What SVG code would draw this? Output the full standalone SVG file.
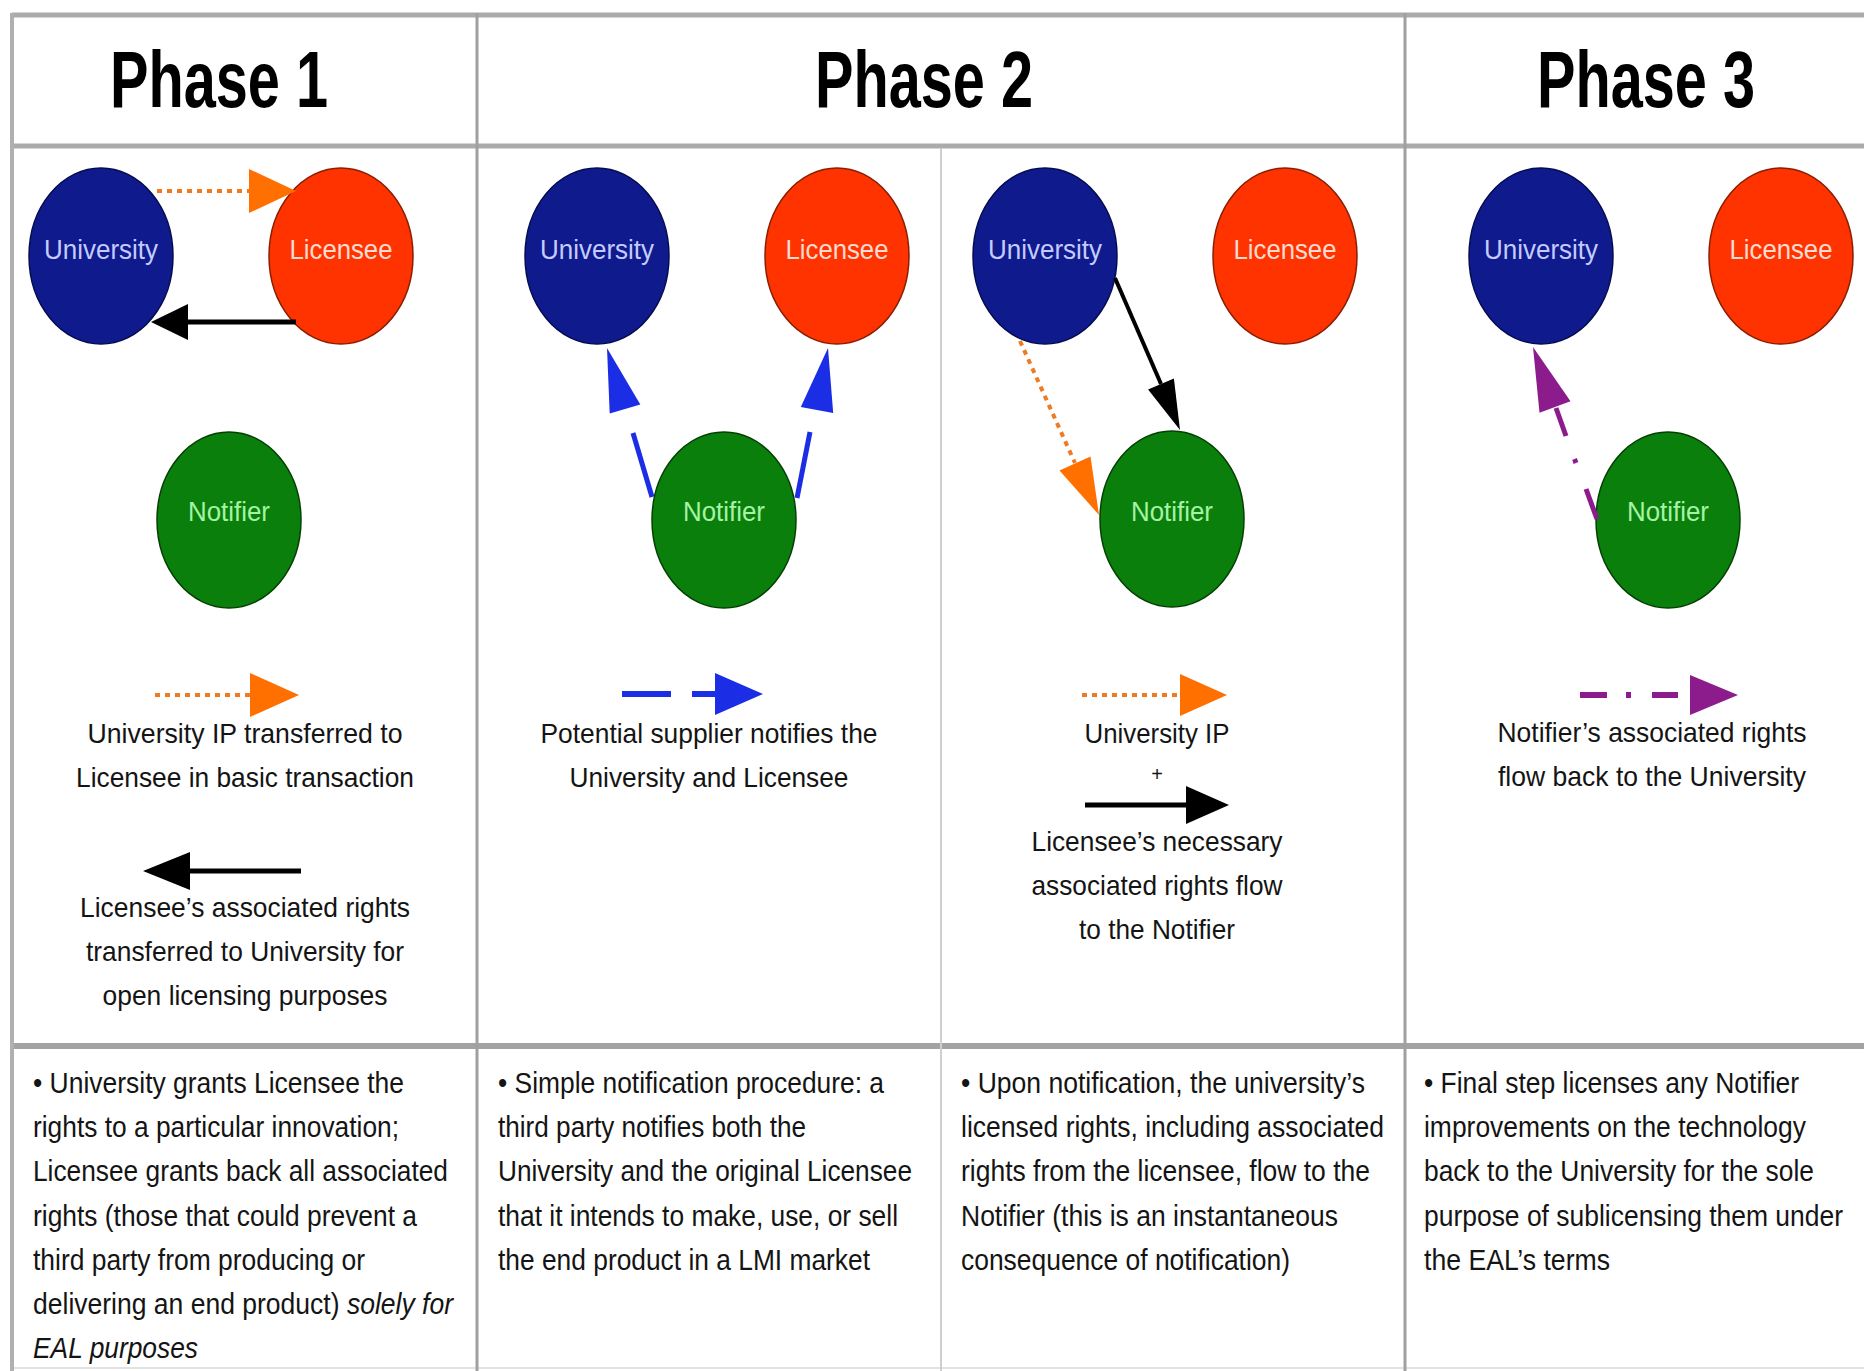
<svg xmlns="http://www.w3.org/2000/svg" width="1864" height="1371" viewBox="0 0 1864 1371">
<style>
.bg{fill:#ffffff}
.gh{stroke:#ababab;stroke-width:5;fill:none}
.gv{stroke:#a0a0a0;stroke-width:3;fill:none}
.gs{stroke:#cfcfcf;stroke-width:2;fill:none}
.title{font-family:"Liberation Sans",Arial,sans-serif;font-weight:bold;font-size:80px;fill:#000}
.nl{font-family:"Liberation Sans",Arial,sans-serif;font-size:27px;text-anchor:middle}
.uni ellipse{fill:#0f1a8c;stroke:#050c50;stroke-width:1.5}
.uni text{fill:#c4cbff}
.lic ellipse{fill:#ff3300;stroke:#8a1e00;stroke-width:1.5}
.lic text{fill:#ffdcd0}
.ntf ellipse{fill:#0b7f0b;stroke:#034003;stroke-width:1.5}
.ntf text{fill:#a4f4a4}
.lg{font-family:"Liberation Sans",Arial,sans-serif;font-size:28px;fill:#141414;text-anchor:middle}
.bt{font-family:"Liberation Sans",Arial,sans-serif;font-size:30px;fill:#141414}
.it{font-style:italic}
.dot{stroke:#ee7a22;stroke-width:4;stroke-dasharray:5 5;fill:none}
.oh{fill:#ff7000}
.blk{stroke:#000;stroke-width:5;fill:none}
.bh{fill:#000}
.blu{stroke:#1b2ee6;stroke-width:5;fill:none}
.buh{fill:#1b2ee6}
.pur{stroke:#8c1c8c;stroke-width:5;fill:none}
.puh{fill:#8c1c8c}
</style>
<rect class="bg" x="0" y="0" width="1864" height="1371"/>
<g id="grid">
<line class="gh" x1="12" y1="15" x2="1864" y2="15"/>
<line class="gh" x1="12" y1="146" x2="1864" y2="146"/>
<line class="gh" x1="12" y1="1046" x2="1864" y2="1046" style="stroke-width:6;stroke:#a3a3a3"/>
<line x1="12" y1="1368" x2="1864" y2="1368" style="stroke:#e2e2e2;stroke-width:2"/>
<line class="gv" x1="12" y1="13" x2="12" y2="1371" style="stroke-width:4;stroke:#b0b0b0"/>
<line class="gv" x1="477" y1="13" x2="477" y2="1371"/>
<line class="gv" x1="1405" y1="13" x2="1405" y2="1371"/>
<line class="gs" x1="941" y1="148" x2="941" y2="1371"/>
</g>
<g id="titles">
<text class="title" x="110" y="107" textLength="218" lengthAdjust="spacingAndGlyphs">Phase 1</text>
<text class="title" x="815" y="107" textLength="218" lengthAdjust="spacingAndGlyphs">Phase 2</text>
<text class="title" x="1537" y="107" textLength="218" lengthAdjust="spacingAndGlyphs">Phase 3</text>
</g>
<g id="p1-university" class="uni"><ellipse cx="101" cy="256" rx="72" ry="88"/><text class="nl" x="101" y="259" textLength="114" lengthAdjust="spacingAndGlyphs">University</text></g>
<g id="p1-licensee" class="lic"><ellipse cx="341" cy="256" rx="72" ry="88"/><text class="nl" x="341" y="259" textLength="103" lengthAdjust="spacingAndGlyphs">Licensee</text></g>
<g id="p1-notifier" class="ntf"><ellipse cx="229" cy="520" rx="72" ry="88"/><text class="nl" x="229" y="521" textLength="82" lengthAdjust="spacingAndGlyphs">Notifier</text></g>
<g id="p2a-university" class="uni"><ellipse cx="597" cy="256" rx="72" ry="88"/><text class="nl" x="597" y="259" textLength="114" lengthAdjust="spacingAndGlyphs">University</text></g>
<g id="p2a-licensee" class="lic"><ellipse cx="837" cy="256" rx="72" ry="88"/><text class="nl" x="837" y="259" textLength="103" lengthAdjust="spacingAndGlyphs">Licensee</text></g>
<g id="p2a-notifier" class="ntf"><ellipse cx="724" cy="520" rx="72" ry="88"/><text class="nl" x="724" y="521" textLength="82" lengthAdjust="spacingAndGlyphs">Notifier</text></g>
<g id="p2b-university" class="uni"><ellipse cx="1045" cy="256" rx="72" ry="88"/><text class="nl" x="1045" y="259" textLength="114" lengthAdjust="spacingAndGlyphs">University</text></g>
<g id="p2b-licensee" class="lic"><ellipse cx="1285" cy="256" rx="72" ry="88"/><text class="nl" x="1285" y="259" textLength="103" lengthAdjust="spacingAndGlyphs">Licensee</text></g>
<g id="p2b-notifier" class="ntf"><ellipse cx="1172" cy="519" rx="72" ry="88"/><text class="nl" x="1172" y="521" textLength="82" lengthAdjust="spacingAndGlyphs">Notifier</text></g>
<g id="p3-university" class="uni"><ellipse cx="1541" cy="256" rx="72" ry="88"/><text class="nl" x="1541" y="259" textLength="114" lengthAdjust="spacingAndGlyphs">University</text></g>
<g id="p3-licensee" class="lic"><ellipse cx="1781" cy="256" rx="72" ry="88"/><text class="nl" x="1781" y="259" textLength="103" lengthAdjust="spacingAndGlyphs">Licensee</text></g>
<g id="p3-notifier" class="ntf"><ellipse cx="1668" cy="520" rx="72" ry="88"/><text class="nl" x="1668" y="521" textLength="82" lengthAdjust="spacingAndGlyphs">Notifier</text></g>
<g id="connectors">
<line class="dot" x1="157" y1="191" x2="250" y2="191"/>
<polygon class="oh" points="249,169 296,191 249,213"/>
<line class="blk" x1="296" y1="322" x2="186" y2="322"/>
<polygon class="bh" points="188,304 151,322 188,340"/>
<line class="blu" x1="652" y1="497" x2="633" y2="433"/>
<polygon class="buh" points="640.3,404.5 607,348 609.7,413.5"/>
<line class="blu" x1="797" y1="498" x2="810" y2="432"/>
<polygon class="buh" points="833.2,412.9 828,348 800.8,407.1"/>
<line class="blk" style="stroke-width:4" x1="1115" y1="278" x2="1161" y2="384"/>
<polygon class="bh" points="1173.9,378.6 1180,430 1148.1,389.4"/>
<line class="dot" x1="1020" y1="341" x2="1075" y2="463"/>
<polygon class="oh" points="1090.5,456.6 1099,515 1059.5,470.4"/>
<line class="pur" x1="1597" y1="519" x2="1586" y2="489"/>
<line class="pur" x1="1576" y1="463" x2="1574.5" y2="459"/>
<line class="pur" x1="1566" y1="436" x2="1556" y2="408"/>
<polygon class="puh" points="1570.5,401.3 1533,347 1539.5,412.7"/>
</g>
<g id="legend">
<line class="dot" x1="155" y1="695" x2="250" y2="695"/>
<polygon class="oh" points="250,673 299,695 250,717"/>
<text class="lg" x="245" y="743" textLength="315" lengthAdjust="spacingAndGlyphs">University IP transferred to</text>
<text class="lg" x="245" y="787" textLength="338" lengthAdjust="spacingAndGlyphs">Licensee in basic transaction</text>
<line class="blk" x1="301" y1="871" x2="188" y2="871"/>
<polygon class="bh" points="190,852 143,871 190,890"/>
<text class="lg" x="245" y="917" textLength="330" lengthAdjust="spacingAndGlyphs">Licensee’s associated rights</text>
<text class="lg" x="245" y="961" textLength="318" lengthAdjust="spacingAndGlyphs">transferred to University for</text>
<text class="lg" x="245" y="1005" textLength="285" lengthAdjust="spacingAndGlyphs">open licensing purposes</text>

<line class="blu" style="stroke-width:6" x1="622" y1="694" x2="671" y2="694"/>
<line class="blu" style="stroke-width:6" x1="692" y1="694" x2="716" y2="694"/>
<polygon class="buh" points="715,673 763,694 715,715"/>
<text class="lg" x="709" y="743" textLength="337" lengthAdjust="spacingAndGlyphs">Potential supplier notifies the</text>
<text class="lg" x="709" y="787" textLength="279" lengthAdjust="spacingAndGlyphs">University and Licensee</text>

<line class="dot" x1="1082" y1="695" x2="1180" y2="695"/>
<polygon class="oh" points="1180,674 1227,695 1180,716"/>
<text class="lg" x="1157" y="743" textLength="145" lengthAdjust="spacingAndGlyphs">University IP</text>
<text class="lg" x="1157" y="781" style="font-size:20px">+</text>
<line class="blk" x1="1085" y1="805" x2="1188" y2="805"/>
<polygon class="bh" points="1186,786 1229,805 1186,824"/>
<text class="lg" x="1157" y="851" textLength="251" lengthAdjust="spacingAndGlyphs">Licensee’s necessary</text>
<text class="lg" x="1157" y="895" textLength="251" lengthAdjust="spacingAndGlyphs">associated rights flow</text>
<text class="lg" x="1157" y="939" textLength="156" lengthAdjust="spacingAndGlyphs">to the Notifier</text>

<line class="pur" style="stroke-width:6" x1="1580" y1="695" x2="1607" y2="695"/>
<line class="pur" style="stroke-width:6" x1="1626" y1="695" x2="1631" y2="695"/>
<line class="pur" style="stroke-width:6" x1="1652" y1="695" x2="1678" y2="695"/>
<polygon class="puh" points="1690,675 1738,695 1690,715"/>
<text class="lg" x="1652" y="742" textLength="309" lengthAdjust="spacingAndGlyphs">Notifier’s associated rights</text>
<text class="lg" x="1652" y="786" textLength="308" lengthAdjust="spacingAndGlyphs">flow back to the University</text>
</g>
<g id="descriptions">
<text class="bt" x="33" y="1093" textLength="371" lengthAdjust="spacingAndGlyphs">• University grants Licensee the</text>
<text class="bt" x="33" y="1137" textLength="366" lengthAdjust="spacingAndGlyphs">rights to a particular innovation;</text>
<text class="bt" x="33" y="1181" textLength="415" lengthAdjust="spacingAndGlyphs">Licensee grants back all associated</text>
<text class="bt" x="33" y="1226" textLength="384" lengthAdjust="spacingAndGlyphs">rights (those that could prevent a</text>
<text class="bt" x="33" y="1270" textLength="332" lengthAdjust="spacingAndGlyphs">third party from producing or</text>
<text class="bt" x="33" y="1314" textLength="420" lengthAdjust="spacingAndGlyphs">delivering an end product) <tspan class="it">solely for</tspan></text>
<text class="bt it" x="33" y="1358" textLength="165" lengthAdjust="spacingAndGlyphs">EAL purposes</text>

<text class="bt" x="498" y="1093" textLength="386" lengthAdjust="spacingAndGlyphs">• Simple notification procedure: a</text>
<text class="bt" x="498" y="1137" textLength="308" lengthAdjust="spacingAndGlyphs">third party notifies both the</text>
<text class="bt" x="498" y="1181" textLength="414" lengthAdjust="spacingAndGlyphs">University and the original Licensee</text>
<text class="bt" x="498" y="1226" textLength="400" lengthAdjust="spacingAndGlyphs">that it intends to make, use, or sell</text>
<text class="bt" x="498" y="1270" textLength="372" lengthAdjust="spacingAndGlyphs">the end product in a LMI market</text>

<text class="bt" x="961" y="1093" textLength="404" lengthAdjust="spacingAndGlyphs">• Upon notification, the university’s</text>
<text class="bt" x="961" y="1137" textLength="423" lengthAdjust="spacingAndGlyphs">licensed rights, including associated</text>
<text class="bt" x="961" y="1181" textLength="409" lengthAdjust="spacingAndGlyphs">rights from the licensee, flow to the</text>
<text class="bt" x="961" y="1226" textLength="377" lengthAdjust="spacingAndGlyphs">Notifier (this is an instantaneous</text>
<text class="bt" x="961" y="1270" textLength="329" lengthAdjust="spacingAndGlyphs">consequence of notification)</text>

<text class="bt" x="1424" y="1093" textLength="375" lengthAdjust="spacingAndGlyphs">• Final step licenses any Notifier</text>
<text class="bt" x="1424" y="1137" textLength="382" lengthAdjust="spacingAndGlyphs">improvements on the technology</text>
<text class="bt" x="1424" y="1181" textLength="390" lengthAdjust="spacingAndGlyphs">back to the University for the sole</text>
<text class="bt" x="1424" y="1226" textLength="419" lengthAdjust="spacingAndGlyphs">purpose of sublicensing them under</text>
<text class="bt" x="1424" y="1270" textLength="186" lengthAdjust="spacingAndGlyphs">the EAL’s terms</text>
</g>
</svg>
